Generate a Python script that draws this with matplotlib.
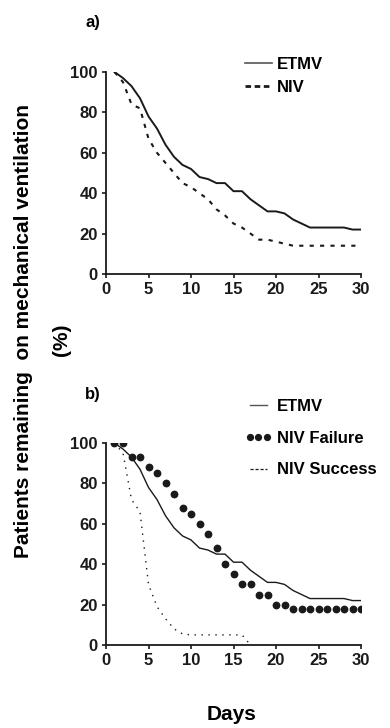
import matplotlib.pyplot as plt
from matplotlib.lines import Line2D

plt.rcParams['font.family'] = ['Liberation Sans', 'DejaVu Sans']
plt.rcParams['font.weight'] = 'bold'

days = list(range(1, 31))

# ETMV (same curve in both panels)
etmv = [100, 97, 93, 87, 78, 72, 64, 58, 54, 52, 48, 47, 45, 45, 41,
        41, 37, 34, 31, 31, 30, 27, 25, 23, 23, 23, 23, 23, 22, 22]
# panel a: NIV overall
niv = [100, 95, 84, 82, 67, 60, 55, 50, 45, 43, 40, 37, 32, 29, 25,
       23, 20, 17, 17, 16, 15, 14, 14, 14, 14, 14, 14, 14, 14, 14]
# panel b: NIV failure / success
niv_fail = [100, 100, 93, 93, 88, 85, 80, 75, 68, 65, 60, 55, 48, 40, 35,
            30, 30, 25, 25, 20, 20, 18, 18, 18, 18, 18, 18, 18, 18, 18]
days_succ = list(range(1, 18))
niv_succ = [100, 95, 72, 66, 30, 19, 13, 8, 5.5, 5, 5, 5, 5, 5, 5, 5, 0]

W, H = 390, 728
fig = plt.figure(figsize=(W / 100, H / 100), dpi=100)

dark = '#1a1a1a'


def make_axes(top_px):
    ax = fig.add_axes([106 / W, 1 - (top_px + 202) / H, 255 / W, 202 / H])
    ax.set_xlim(0, 30)
    ax.set_ylim(0, 100)
    ax.set_xticks(range(0, 31, 5))
    ax.set_yticks(range(0, 101, 20))
    for s in ['top', 'right']:
        ax.spines[s].set_visible(False)
    for s in ['left', 'bottom']:
        ax.spines[s].set_linewidth(1.3)
        ax.spines[s].set_color(dark)
    ax.tick_params(direction='out', length=3, width=1.2, labelsize=12,
                   pad=3, colors=dark)
    return ax


# panel a
ax1 = make_axes(72)
ax1.plot(days, etmv, color=dark, lw=1.4)
ax1.plot(days, niv, color=dark, lw=1.5, ls=(0, (2, 3)))
# legend keys drawn as in the original (solid / heavy dashes)
h1 = [Line2D([], [], color='#555555', lw=1.2),
      Line2D([], [], color=dark, lw=2.0, ls=(0, (2, 1.3)))]
ax1.legend(h1, ['ETMV', 'NIV'], loc='upper left',
           bbox_to_anchor=(245 / W, 1 - 57 / H),
           bbox_transform=fig.transFigure, frameon=False, fontsize=12,
           handlelength=1.6, handletextpad=0.3, borderpad=0,
           borderaxespad=0, labelspacing=0.45)
fig.text(93 / W, 1 - 22 / H, 'a)', fontsize=12, fontweight='bold',
         ha='center', va='center')

# panel b
ax2 = make_axes(443)
ax2.plot(days, etmv, color=dark, lw=1.0)
ax2.plot(days, niv_fail, color=dark, ls='none', marker='o', ms=4.6)
ax2.plot(days_succ, niv_succ, color=dark, lw=1.0, ls=(0, (1, 4)))
h2 = [Line2D([], [], color='#555555', lw=1.0),
      Line2D([], [], color=dark, ls='none', marker='o', ms=4.2),
      Line2D([], [], color=dark, lw=0.9, ls=(0, (2.5, 1.5)))]
ax2.legend(h2, ['ETMV', 'NIV Failure', 'NIV Success'], loc='upper left',
           bbox_to_anchor=(245 / W, 1 - 399 / H),
           bbox_transform=fig.transFigure, frameon=False, fontsize=12,
           handlelength=1.6, handletextpad=0.3, borderpad=0,
           borderaxespad=0, labelspacing=1.0, numpoints=3)
fig.text(93 / W, 1 - 395 / H, 'b)', fontsize=12, fontweight='bold',
         ha='center', va='center')

# shared labels
fig.text(24 / W, 1 - 331 / H, 'Patients remaining  on mechanical ventilation',
         rotation=90, fontsize=15, fontweight='bold', ha='center', va='center')
fig.text(61 / W, 1 - 340 / H, '(%)', rotation=90, fontsize=15,
         fontweight='bold', ha='center', va='center')
fig.text(232 / W, 1 - 715 / H, 'Days', fontsize=15, fontweight='bold',
         ha='center', va='center')

fig.savefig('out.png', dpi=100)
